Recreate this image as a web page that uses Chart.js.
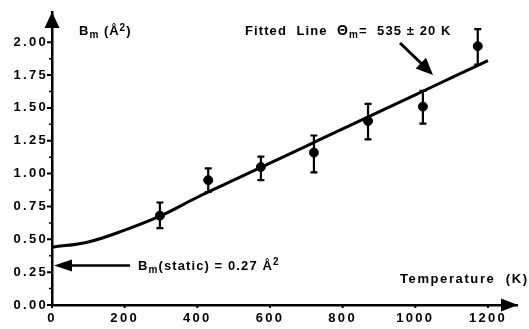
<!DOCTYPE html>
<html><head><meta charset="utf-8">
<script src="https://cdn.jsdelivr.net/npm/chart.js@4/dist/chart.umd.min.js"></script>
<style>html,body{margin:0;padding:0;background:#fff}#wrap{width:529px;height:329px;position:relative}</style>
</head><body><div id="wrap"><canvas id="c" width="529" height="329" style="width:529px;height:329px"></canvas></div>
<script>
// ---- data ----
const temperatures = [297, 430, 575, 721, 870, 1021, 1172];
const bValues      = [0.68, 0.95, 1.05, 1.16, 1.40, 1.51, 1.97];
const errLow       = [0.585, 0.86, 0.95, 1.01, 1.26, 1.38, 1.83];
const errHigh      = [0.78, 1.04, 1.13, 1.29, 1.53, 1.63, 2.10];
const fitT = [0, 100, 200, 300, 400, 500, 600, 700, 800, 900, 1000, 1100, 1200];
const fitB = [0.44, 0.48, 0.57, 0.68, 0.82, 0.95, 1.08, 1.21, 1.34, 1.47, 1.60, 1.73, 1.86];
const xTickValues = [0, 200, 400, 600, 800, 1000, 1200];
const yMajorTicks = [0, 0.25, 0.5, 0.75, 1.0, 1.25, 1.5, 1.75, 2.0];
const yMinorTicks = [0.125, 0.375, 0.625, 0.875, 1.125, 1.375, 1.625, 1.875];
const staticB = 0.30; // arrow level for B_m(static) label

const FONT = '"Liberation Sans", Arial, sans-serif';

function rich(ctx, x, y, parts) {
  for (const p of parts) {
    ctx.font = 'bold ' + (p.s || 13) + 'px ' + FONT;
    ctx.fillText(p.t, x, y + (p.dy || 0));
    x += ctx.measureText(p.t).width;
  }
}
function arrowHead(ctx, tx, ty, dx, dy, len, half) {
  const L = Math.hypot(dx, dy), ux = dx / L, uy = dy / L;
  const bx = tx - ux * len, by = ty - uy * len;
  ctx.beginPath();
  ctx.moveTo(tx, ty);
  ctx.lineTo(bx - uy * half, by + ux * half);
  ctx.lineTo(bx + uy * half, by - ux * half);
  ctx.closePath();
  ctx.fill();
}

const spacingPlugin = {
  id: 'spacing',
  beforeDraw(chart) { chart.ctx.letterSpacing = '2.3px'; },
  afterDraw(chart) { chart.ctx.letterSpacing = '0px'; }
};

const deco = {
  id: 'deco',
  afterDatasetsDraw(chart) {
    const ctx = chart.ctx, xs = chart.scales.x, ys = chart.scales.y;
    ctx.save();
    ctx.letterSpacing = '0px';
    ctx.strokeStyle = '#000'; ctx.fillStyle = '#000';
    ctx.lineWidth = 2.2;
    temperatures.forEach((t, i) => {
      const px = xs.getPixelForValue(t);
      const lo = ys.getPixelForValue(errLow[i]), hi = ys.getPixelForValue(errHigh[i]);
      ctx.beginPath();
      ctx.moveTo(px, lo); ctx.lineTo(px, hi);
      ctx.moveTo(px - 3.5, lo); ctx.lineTo(px + 3.5, lo);
      ctx.moveTo(px - 3.5, hi); ctx.lineTo(px + 3.5, hi);
      ctx.stroke();
    });
    ctx.restore();
  },
  afterDraw(chart) {
    const ctx = chart.ctx, xs = chart.scales.x, ys = chart.scales.y;
    const a = chart.chartArea;
    ctx.save();
    ctx.letterSpacing = '0px';
    ctx.strokeStyle = '#000'; ctx.fillStyle = '#000';
    ctx.lineWidth = 2;
    ctx.beginPath();
    yMajorTicks.forEach(v => { const py = ys.getPixelForValue(v); ctx.moveTo(a.left - 5, py); ctx.lineTo(a.left, py); });
    xTickValues.forEach(v => { const px = xs.getPixelForValue(v); ctx.moveTo(px, a.bottom); ctx.lineTo(px, a.bottom + 3); });
    ctx.stroke();
    ctx.lineWidth = 1.5;
    ctx.beginPath();
    yMinorTicks.forEach(v => { const py = ys.getPixelForValue(v); ctx.moveTo(a.left - 3, py); ctx.lineTo(a.left, py); });
    ctx.stroke();
    arrowHead(ctx, a.left, a.top, 0, -1, 16, 7.5);
    arrowHead(ctx, a.right + 1, a.bottom, 1, 0, 17, 6.5);
    const sy = ys.getPixelForValue(staticB);
    ctx.lineWidth = 2.5;
    ctx.beginPath(); ctx.moveTo(130, sy); ctx.lineTo(66, sy); ctx.stroke();
    arrowHead(ctx, a.left + 2, sy, -1, 0, 18, 6);
    ctx.lineWidth = 3;
    ctx.beginPath(); ctx.moveTo(400, 43); ctx.lineTo(424, 66); ctx.stroke();
    arrowHead(ctx, 433, 75, 33, 32, 17, 7.5);
    ctx.textBaseline = 'alphabetic'; ctx.textAlign = 'left';
    ctx.letterSpacing = '1px';
    rich(ctx, 79, 35, [{t:'B'}, {t:'m', s:10, dy:3}, {t:' (Å'}, {t:'2', s:10, dy:-4}, {t:')'}]);
    ctx.letterSpacing = '1.1px';
    rich(ctx, 245, 35, [{t:'Fitted  Line  '}, {t:'Θ', s:14}, {t:'m', s:10, dy:3}, {t:'=  535 ± 20 K'}]);
    rich(ctx, 138, 270, [{t:'B'}, {t:'m', s:10, dy:3}, {t:'(static) = 0.27 Å'}, {t:'2', s:10, dy:-5}]);
    ctx.letterSpacing = '1.6px';
    rich(ctx, 400, 283, [{t:'Temperature  (K)'}]);
    ctx.restore();
  }
};

new Chart(document.getElementById('c'), {
  data: {
    datasets: [
      { type: 'line', data: fitT.map((t, i) => ({x: t, y: fitB[i]})), borderColor: '#000', borderWidth: 3,
        pointRadius: 0, tension: 0.4, fill: false, order: 2 },
      { type: 'scatter', data: temperatures.map((t, i) => ({x: t, y: bValues[i]})), backgroundColor: '#000',
        borderColor: '#000', pointRadius: 4.5, pointHoverRadius: 4.5, order: 1 }
    ]
  },
  options: {
    responsive: false, animation: false, devicePixelRatio: 1,
    layout: { padding: { left: 0, right: 12, top: 12, bottom: 0 } },
    plugins: { legend: { display: false }, tooltip: { enabled: false } },
    scales: {
      x: {
        type: 'linear', min: 0, max: 1280,
        afterBuildTicks: s => { s.ticks = xTickValues.map(v => ({value: v})); },
        afterFit: s => { s.height = 24; },
        grid: { display: true, drawOnChartArea: false, drawTicks: false },
        border: { display: true, color: '#000', width: 2.5 },
        ticks: { color: '#000', padding: 6, maxRotation: 0, autoSkip: false,
                 font: { family: FONT, size: 13, weight: 'bold' },
                 callback: v => String(v) }
      },
      y: {
        type: 'linear', min: 0, max: 2.23,
        afterBuildTicks: s => { s.ticks = yMajorTicks.map(v => ({value: v})); },
        afterFit: s => { s.width = 52; },
        grid: { display: true, drawOnChartArea: false, drawTicks: false },
        border: { display: true, color: '#000', width: 2.5 },
        ticks: { color: '#000', padding: 4, autoSkip: false,
                 font: { family: FONT, size: 13, weight: 'bold' },
                 callback: v => v.toFixed(2) }
      }
    }
  },
  plugins: [spacingPlugin, deco]
});
</script>
</body></html>
